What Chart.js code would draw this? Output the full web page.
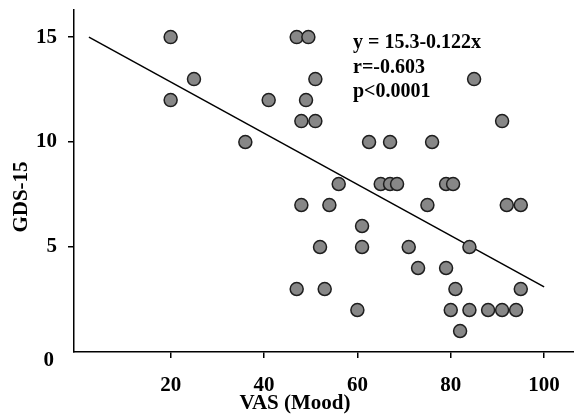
<!DOCTYPE html>
<html>
<head>
<meta charset="utf-8">
<script src="https://cdn.jsdelivr.net/npm/chart.js@4/dist/chart.umd.min.js"></script>
<style>
html,body{margin:0;padding:0;background:#fff;}
#wrap{width:574px;height:415px;position:relative;}
</style>
</head>
<body>
<div id="wrap"><canvas id="c" width="574" height="415"></canvas></div>
<script>
// ---- data ----
const vasMood = [20, 20, 25, 36, 41, 47, 49.5, 51, 49, 48, 51, 48, 54, 56, 52, 47, 53, 61, 61, 60,
  62.5, 67, 76, 65, 67, 68.5, 79, 80.5, 75, 71, 73, 79, 84, 81, 80, 84, 88, 91, 94, 82, 95, 85, 91, 92, 95];
const gds15 = [15, 12, 13, 10, 12, 15, 15, 13, 12, 11, 11, 7, 7, 8, 5, 3, 3, 6, 5, 2,
  10, 10, 10, 8, 8, 8, 8, 8, 7, 5, 4, 4, 5, 3, 2, 2, 2, 2, 2, 1, 3, 13, 11, 7, 7];
const fitX = [2.5, 100];
const fitY = [15.0, 3.1];
const xTickValues = [20, 40, 60, 80, 100];
const yTickValues = [5, 10, 15];
const originLabel = '0';
const xTitle = 'VAS (Mood)';
const yTitle = 'GDS-15';
const statsLines = ['y = 15.3-0.122x', 'r=-0.603', 'p<0.0001'];

const FONT = '"Liberation Serif", "Times New Roman", serif';

const points = vasMood.map((x, i) => ({x: x, y: gds15[i]}));
const fitLine = fitX.map((x, i) => ({x: x, y: fitY[i]}));

const textPlugin = {
  id: 'texts',
  afterDraw(chart) {
    const ctx = chart.ctx;
    const ys = chart.scales.y;
    ctx.save();
    ctx.fillStyle = '#000';
    ctx.font = 'bold 21px ' + FONT;
    ctx.textAlign = 'right';
    ctx.textBaseline = 'middle';
    ctx.fillText(originLabel, 54, ys.getPixelForValue(0) + 9);
    ctx.textAlign = 'center';
    ctx.fillText(xTitle, 295, 404);
    ctx.save();
    ctx.translate(22, 197);
    ctx.rotate(-Math.PI / 2);
    ctx.fillText(yTitle, 0, 0);
    ctx.restore();
    ctx.font = 'bold 20px ' + FONT;
    ctx.textAlign = 'left';
    statsLines.forEach((s, i) => ctx.fillText(s, 353, 43 + i * 24.5));
    ctx.restore();
  }
};

new Chart(document.getElementById('c'), {
  type: 'scatter',
  data: {
    datasets: [
      {
        label: 'points',
        data: points,
        pointRadius: 6.5,
        pointHoverRadius: 6.5,
        backgroundColor: '#878787',
        borderColor: '#1e1e1e',
        borderWidth: 1.5
      },
      {
        type: 'line',
        label: 'fit',
        data: fitLine,
        showLine: true,
        pointRadius: 0,
        borderColor: '#000',
        borderWidth: 1.5,
        fill: false
      }
    ]
  },
  options: {
    responsive: false,
    animation: false,
    layout: {autoPadding: false, padding: {top: 10, left: 0, right: 0, bottom: 0}},
    plugins: {legend: {display: false}, tooltip: {enabled: false}},
    scales: {
      x: {
        type: 'linear',
        min: -0.7,
        max: 106.4,
        afterBuildTicks: s => { s.ticks = xTickValues.map(v => ({value: v})); },
        afterFit: s => { s.height = 63; s.paddingLeft = 0; s.paddingRight = 0; },
        grid: {drawOnChartArea: false, drawTicks: true, tickLength: 6, color: '#000', lineWidth: 1.5},
        border: {display: true, color: '#000', width: 1.5},
        ticks: {
          autoSkip: false, maxRotation: 0, padding: 15, color: '#000',
          font: {family: FONT, size: 21, weight: 'bold'}
        }
      },
      y: {
        type: 'linear',
        min: 0,
        max: 16.29,
        afterBuildTicks: s => { s.ticks = yTickValues.map(v => ({value: v})); },
        afterFit: s => { s.width = 74; s.paddingTop = 0; s.paddingBottom = 0; },
        grid: {drawOnChartArea: false, drawTicks: true, tickLength: 6, color: '#000', lineWidth: 1.5},
        border: {display: true, color: '#000', width: 1.5},
        ticks: {
          autoSkip: false, padding: 11, color: '#000',
          font: {family: FONT, size: 21, weight: 'bold'}
        }
      }
    }
  },
  plugins: [textPlugin]
});
</script>
</body>
</html>
